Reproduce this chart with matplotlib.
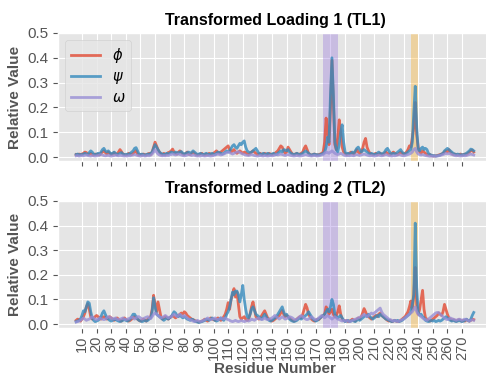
import numpy as np
import matplotlib
matplotlib.use("Agg")
import matplotlib.pyplot as plt

plt.style.use("ggplot")
plt.rcParams["font.family"] = ["Liberation Sans", "DejaVu Sans"]

residues = list(range(6, 279))

# ---- Transformed Loading 1 ----
phi1 = [.01, .008, .012, .01,
        .012, .015, .02, .018, .012, .01, .015, .01, .008, .012,
        .01, .012, .008, .015, .02, .025, .018, .012, .02, .015,
        .01, .012, .018, .012, .01, .02, .03, .022, .012, .01,
        .008, .01, .015, .012, .01, .015, .02, .025, .012, .008,
        .01, .008, .012, .01, .008, .012, .015, .01, .02, .04,
        .06, .045, .03, .02, .012, .01, .015, .01, .012, .018,
        .02, .025, .032, .02, .015, .012, .02, .025, .018, .012,
        .01, .015, .02, .012, .01, .015, .02, .015, .01, .008,
        .01, .012, .015, .01, .008, .012, .01, .015, .012, .01,
        .015, .02, .025, .018, .015, .02, .025, .03, .035, .04,
        .045, .03, .02, .025, .03, .02, .015, .02, .025, .02,
        .015, .02, .018, .012, .01, .015, .02, .025, .02, .015,
        .01, .012, .015, .01, .012, .015, .012, .01, .015, .012,
        .01, .012, .015, .02, .025, .035, .045, .04, .025, .015,
        .02, .04, .03, .02, .012, .01, .012, .015, .01, .012,
        .015, .02, .035, .045, .03, .015, .01, .008, .01, .012,
        .01, .008, .01, .012, .015, .02, .06, .157, .1, .05,
        .2, .39, .22, .05, .03, .08, .15, .1, .04, .02,
        .015, .01, .012, .015, .02, .015, .012, .02, .03, .02,
        .015, .02, .035, .06, .075, .04, .025, .015, .012, .01,
        .012, .015, .01, .012, .015, .012, .01, .015, .02, .015,
        .012, .01, .015, .02, .015, .012, .01, .015, .02, .015,
        .012, .015, .02, .03, .045, .04, .08, .12, .22, .09,
        .04, .02, .015, .025, .02, .015, .01, .008, .01, .005,
        .005, .004, .005, .006, .008, .01, .012, .015, .02, .025,
        .02, .03, .02, .015, .01, .012, .01, .008, .01, .012,
        .008, .01, .012, .01, .015, .02, .025, .028, .02]

psi1 = [.01, .012, .008, .01,
        .01, .012, .015, .012, .01, .018, .025, .02, .012, .01,
        .012, .015, .01, .02, .03, .035, .025, .02, .025, .018,
        .012, .015, .02, .015, .01, .012, .015, .018, .012, .01,
        .01, .012, .01, .015, .02, .025, .035, .038, .025, .012,
        .01, .012, .01, .008, .01, .012, .01, .015, .02, .035,
        .05, .04, .03, .02, .015, .012, .01, .012, .015, .012,
        .015, .02, .018, .015, .02, .018, .015, .02, .022, .015,
        .012, .015, .018, .02, .015, .018, .025, .02, .015, .01,
        .012, .015, .012, .01, .012, .015, .012, .01, .012, .015,
        .012, .01, .015, .02, .018, .015, .012, .015, .02, .025,
        .02, .025, .035, .045, .05, .04, .035, .045, .055, .05,
        .06, .065, .04, .025, .02, .018, .02, .025, .03, .035,
        .025, .015, .012, .01, .015, .012, .01, .015, .012, .01,
        .012, .015, .012, .01, .015, .02, .025, .02, .03, .028,
        .025, .03, .02, .015, .012, .01, .012, .015, .012, .01,
        .012, .015, .02, .025, .02, .015, .01, .008, .01, .012,
        .008, .01, .008, .01, .012, .015, .02, .04, .08, .06,
        .25, .40, .25, .06, .03, .02, .05, .1, .13, .06,
        .02, .012, .015, .012, .015, .02, .015, .025, .035, .04,
        .03, .02, .025, .03, .025, .02, .015, .012, .015, .012,
        .01, .012, .015, .02, .015, .012, .015, .02, .03, .035,
        .025, .015, .012, .015, .012, .015, .02, .025, .03, .02,
        .015, .012, .015, .02, .025, .03, .06, .18, .285, .12,
        .03, .025, .035, .04, .03, .035, .03, .015, .01, .008,
        .005, .006, .004, .005, .006, .008, .012, .015, .025, .03,
        .035, .03, .025, .02, .015, .012, .01, .012, .01, .008,
        .01, .008, .012, .015, .02, .025, .032, .03, .025]

omega1 = [.005, .006, .004, .005,
          .006, .005, .007, .008, .006, .005, .004, .006, .005, .004,
          .005, .006, .008, .01, .008, .006, .005, .006, .007, .005,
          .004, .005, .006, .008, .006, .005, .007, .006, .005, .004,
          .005, .004, .006, .005, .007, .008, .01, .008, .006, .005,
          .004, .005, .006, .004, .005, .006, .005, .007, .012, .02,
          .03, .02, .012, .008, .006, .005, .006, .005, .007, .006,
          .008, .01, .012, .01, .008, .01, .012, .01, .008, .006,
          .005, .006, .008, .01, .008, .006, .008, .007, .005, .004,
          .005, .004, .006, .005, .004, .005, .006, .005, .004, .005,
          .006, .008, .01, .012, .01, .008, .01, .012, .015, .018,
          .02, .018, .015, .012, .015, .018, .02, .022, .018, .015,
          .012, .01, .008, .007, .006, .008, .01, .008, .006, .005,
          .004, .005, .006, .005, .004, .006, .005, .004, .005, .006,
          .005, .006, .008, .01, .008, .01, .012, .01, .008, .006,
          .008, .01, .008, .006, .005, .004, .005, .006, .005, .004,
          .005, .006, .008, .01, .008, .006, .005, .004, .005, .006,
          .005, .004, .005, .006, .008, .01, .015, .02, .018, .015,
          .02, .025, .02, .015, .012, .01, .012, .015, .012, .008,
          .006, .005, .006, .005, .007, .006, .005, .008, .01, .008,
          .006, .008, .01, .012, .01, .008, .006, .005, .006, .005,
          .004, .005, .006, .008, .006, .005, .006, .008, .01, .008,
          .006, .005, .004, .006, .005, .006, .008, .01, .008, .006,
          .005, .006, .008, .01, .012, .015, .02, .03, .035, .02,
          .012, .01, .008, .01, .008, .006, .005, .004, .003, .004,
          .003, .004, .003, .004, .005, .006, .008, .01, .012, .015,
          .012, .015, .012, .01, .008, .006, .005, .006, .005, .004,
          .005, .006, .005, .006, .008, .01, .012, .01, .008]

# ---- Transformed Loading 2 ----
phi2 = [.015, .02, .018, .012,
        .02, .03, .045, .07, .083, .06, .03, .02, .025, .03,
        .035, .03, .025, .02, .025, .03, .025, .02, .025, .03,
        .025, .02, .015, .02, .025, .02, .015, .012, .02, .025,
        .02, .015, .012, .015, .02, .025, .03, .025, .02, .015,
        .012, .015, .02, .015, .012, .02, .025, .03, .06, .117,
        .08, .05, .09, .06, .03, .02, .025, .03, .025, .02,
        .025, .03, .035, .03, .025, .03, .035, .04, .045, .04,
        .05, .045, .035, .03, .025, .02, .018, .015, .012, .01,
        .008, .01, .012, .015, .02, .015, .012, .018, .025, .02,
        .018, .015, .02, .025, .02, .015, .02, .03, .04, .06,
        .087, .06, .1, .12, .144, .11, .13, .08, .03, .02,
        .025, .03, .02, .015, .02, .04, .07, .09, .06, .03,
        .025, .02, .025, .035, .045, .054, .04, .025, .02, .015,
        .012, .015, .02, .025, .03, .035, .045, .055, .04, .03,
        .035, .03, .025, .02, .015, .012, .015, .02, .025, .03,
        .025, .04, .06, .08, .065, .04, .03, .02, .015, .012,
        .015, .02, .018, .025, .03, .035, .04, .07, .06, .04,
        .05, .06, .04, .03, .035, .05, .074, .04, .02, .015,
        .012, .015, .01, .012, .015, .02, .015, .012, .02, .025,
        .02, .03, .045, .063, .05, .035, .03, .025, .02, .025,
        .03, .035, .03, .04, .045, .035, .03, .025, .02, .015,
        .012, .015, .01, .012, .015, .012, .01, .012, .015, .02,
        .025, .03, .04, .05, .07, .094, .06, .12, .23, .08,
        .04, .06, .1, .137, .06, .025, .02, .015, .012, .015,
        .02, .025, .03, .035, .045, .04, .035, .05, .08, .06,
        .04, .025, .02, .015, .018, .015, .012, .015, .018, .015,
        .012, .015, .012, .018, .015, .012, .015, .02, .018]

psi2 = [.01, .012, .015, .02,
        .035, .054, .05, .07, .09, .085, .05, .025, .015, .01,
        .012, .015, .02, .03, .045, .054, .04, .025, .02, .015,
        .012, .015, .02, .018, .015, .012, .01, .012, .015, .018,
        .015, .012, .015, .02, .03, .04, .04, .03, .02, .015,
        .012, .01, .012, .015, .012, .015, .02, .025, .05, .107,
        .07, .04, .035, .03, .025, .02, .015, .02, .025, .02,
        .025, .03, .04, .05, .045, .035, .03, .035, .03, .025,
        .03, .025, .02, .018, .015, .02, .018, .012, .01, .008,
        .006, .008, .01, .012, .015, .02, .018, .015, .02, .025,
        .02, .015, .012, .015, .02, .025, .02, .015, .025, .04,
        .05, .07, .1, .13, .12, .134, .134, .12, .09, .12,
        .157, .1, .06, .03, .025, .04, .06, .07, .055, .04,
        .035, .03, .025, .02, .03, .04, .03, .02, .015, .012,
        .015, .02, .025, .03, .04, .05, .06, .07, .05, .035,
        .04, .03, .02, .015, .012, .01, .012, .015, .02, .025,
        .02, .025, .03, .035, .04, .05, .04, .03, .02, .015,
        .012, .015, .02, .025, .03, .035, .04, .05, .06, .05,
        .07, .1, .08, .04, .03, .025, .03, .035, .025, .015,
        .01, .012, .015, .01, .012, .015, .012, .01, .015, .02,
        .015, .02, .025, .03, .035, .03, .04, .03, .025, .02,
        .025, .03, .035, .03, .04, .035, .03, .025, .02, .018,
        .015, .012, .01, .012, .015, .012, .015, .01, .012, .015,
        .02, .025, .03, .035, .04, .05, .08, .12, .41, .15,
        .05, .035, .04, .03, .025, .015, .012, .01, .012, .015,
        .012, .015, .01, .012, .015, .012, .015, .02, .025, .03,
        .025, .02, .015, .012, .015, .012, .01, .012, .015, .012,
        .01, .012, .015, .02, .015, .012, .02, .035, .047]

omega2 = [.008, .01, .012, .015,
          .02, .025, .02, .015, .018, .02, .025, .03, .025, .02,
          .018, .02, .025, .022, .02, .018, .02, .025, .03, .028,
          .025, .02, .022, .025, .02, .018, .02, .022, .025, .02,
          .018, .02, .022, .025, .028, .025, .02, .025, .03, .03,
          .025, .02, .022, .025, .028, .03, .025, .022, .03, .04,
          .045, .04, .035, .03, .025, .028, .03, .035, .03, .025,
          .028, .03, .035, .04, .035, .03, .035, .04, .035, .03,
          .035, .03, .025, .02, .018, .015, .012, .01, .012, .015,
          .012, .01, .012, .015, .018, .02, .025, .02, .018, .02,
          .022, .025, .02, .018, .02, .025, .02, .022, .025, .02,
          .018, .015, .012, .01, .012, .015, .012, .01, .012, .015,
          .012, .01, .012, .015, .012, .015, .02, .018, .015, .02,
          .022, .025, .02, .018, .02, .025, .02, .018, .02, .022,
          .025, .03, .035, .03, .025, .02, .025, .03, .025, .02,
          .022, .025, .03, .028, .025, .02, .018, .02, .025, .03,
          .035, .03, .025, .02, .018, .02, .025, .03, .025, .02,
          .018, .02, .025, .03, .035, .03, .025, .03, .035, .03,
          .025, .02, .025, .03, .025, .02, .018, .015, .012, .015,
          .012, .015, .012, .01, .012, .015, .018, .02, .022, .025,
          .028, .03, .035, .04, .035, .03, .035, .04, .045, .04,
          .045, .05, .055, .06, .065, .05, .04, .035, .03, .025,
          .02, .018, .015, .012, .015, .012, .01, .012, .015, .018,
          .02, .025, .03, .035, .04, .045, .05, .06, .07, .05,
          .04, .035, .03, .025, .02, .018, .015, .02, .025, .03,
          .035, .04, .045, .047, .047, .04, .035, .03, .025, .02,
          .018, .02, .025, .022, .02, .018, .015, .018, .02, .018,
          .015, .018, .02, .018, .015, .012, .015, .018, .015]

titles = ["Transformed Loading 1 (TL1)", "Transformed Loading 2 (TL2)"]
series_labels = [r"$\phi$", r"$\psi$", r"$\omega$"]
xticks = list(range(10, 280, 10))
yticks = [0.0, 0.1, 0.2, 0.3, 0.4, 0.5]
purple_span = (175, 185)
orange_span = (235, 240)

colors = ["#E24A33", "#348ABD", "#988ED5"]

fig = plt.figure(figsize=(4.86, 3.78), dpi=100)
W, H = 486, 378
ax1 = fig.add_axes([58 / W, 1 - 161 / H, 434 / W, 128 / H])
ax2 = fig.add_axes([58 / W, 1 - 328 / H, 434 / W, 127 / H])

panels = [(ax1, [phi1, psi1, omega1]), (ax2, [phi2, psi2, omega2])]
for i, (ax, data) in enumerate(panels):
    ax.axvspan(*purple_span, color="mediumpurple", alpha=0.35, lw=0, zorder=1)
    ax.axvspan(*orange_span, color="orange", alpha=0.3, lw=0, zorder=1)
    for vals, c, lab in zip(data, colors, series_labels):
        ax.plot(residues, vals, color=c, lw=2.0, alpha=0.8, label=lab, zorder=2)
    ax.set_xlim(-6.4, 290.5)
    ax.set_ylim(-0.016, 0.5)
    ax.set_xticks(xticks)
    ax.set_yticks(yticks)
    ax.set_yticklabels([f"{v:.1f}" for v in yticks])
    ax.tick_params(axis="both", labelsize=11, colors="#555555")
    ax.set_title(titles[i], fontsize=11.5, fontweight="bold", color="black")
    ax.set_ylabel("Relative Value", fontsize=11, fontweight="bold", color="#555555")

ax1.tick_params(axis="x", labelbottom=False)
ax2.set_xticklabels([str(t) for t in xticks], rotation=90)
ax2.tick_params(axis="x", labelsize=10.5, pad=2)
ax2.set_xlabel("Residue Number", fontsize=11, fontweight="bold", color="#555555",
               labelpad=1)

ax1.legend(loc="upper left", fontsize=10.5, labelspacing=0.35, handlelength=2.0)

fig.savefig("out.png", dpi=100)
